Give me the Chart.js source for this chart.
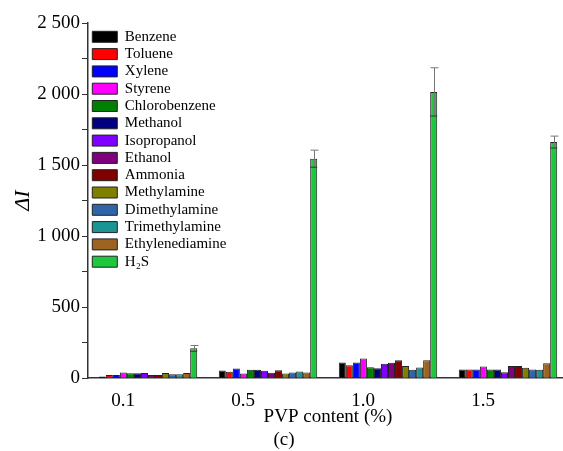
<!DOCTYPE html>
<html>
<head>
<meta charset="utf-8">
<script src="https://cdn.jsdelivr.net/npm/chart.js@4.4.0/dist/chart.umd.min.js"></script>
<style>
  html, body { margin: 0; padding: 0; background: #fff; overflow: hidden; }
  #wrap { width: 600px; height: 451px; }
</style>
</head>
<body>
<div id="wrap"><canvas id="chart" width="600" height="451"></canvas></div>
<script>
// Categories (PVP content, %)
const categories = ['0.1', '0.5', '1.0', '1.5'];

// ΔI per gas
const benzene         = [12, 54, 110, 61];
const toluene         = [23, 45, 92, 61];
const xylene          = [23, 68, 110, 61];
const styrene         = [40, 33, 138, 82];
const chlorobenzene   = [35, 59, 77, 61];
const methanol        = [35, 59, 70, 61];
const isopropanol     = [37, 52, 101, 42];
const ethanol         = [23, 38, 108, 85];
const ammonia         = [23, 56, 127, 85];
const methylamine     = [37, 33, 85, 73];
const dimethylamine   = [28, 40, 59, 61];
const trimethylamine  = [28, 47, 75, 59];
const ethylenediamine = [37, 40, 127, 106];
const h2s             = [210, 1545, 2015, 1662];
const h2sError        = [20, 60, 170, 42];

// Y tick values
const yTicks = [0, 500, 1000, 1500, 2000, 2500];

const serif = "'Liberation Serif', 'Times New Roman', serif";

// Series definitions
const series = [
  ['Benzene', benzene, '#000000'],
  ['Toluene', toluene, '#ff0000'],
  ['Xylene', xylene, '#0000ff'],
  ['Styrene', styrene, '#ff00ff'],
  ['Chlorobenzene', chlorobenzene, '#008000'],
  ['Methanol', methanol, '#000080'],
  ['Isopropanol', isopropanol, '#8000ff'],
  ['Ethanol', ethanol, '#800080'],
  ['Ammonia', ammonia, '#800000'],
  ['Methylamine', methylamine, '#808000'],
  ['Dimethylamine', dimethylamine, '#2f64a8'],
  ['Trimethylamine', trimethylamine, '#1a9494'],
  ['Ethylenediamine', ethylenediamine, '#9c6420'],
  ['H\u2082S', h2s, '#1ec83c']
];

const datasets = series.map(([label, data, color]) => ({
  label: label,
  data: data,
  backgroundColor: color,
  borderColor: '#222',
  borderWidth: 1
}));

// Error bars on the H2S series
const errorBarPlugin = {
  id: 'errorBars',
  afterDatasetsDraw(chart) {
    const ctx = chart.ctx;
    const y = chart.scales.y;
    const meta = chart.getDatasetMeta(chart.data.datasets.length - 1);
    ctx.save();
    ctx.lineWidth = 1;
    meta.data.forEach((bar, i) => {
      const v = h2s[i], e = h2sError[i];
      const yTop = y.getPixelForValue(v + e);
      const yBot = y.getPixelForValue(v - e);
      const x = Math.round(bar.x) + 0.5;
      ctx.strokeStyle = '#777';
      ctx.beginPath();
      ctx.moveTo(x, yTop);
      ctx.lineTo(x, yBot);
      ctx.moveTo(x - 4, yTop);
      ctx.lineTo(x + 4, yTop);
      ctx.stroke();
      ctx.strokeStyle = '#333';
      ctx.beginPath();
      ctx.moveTo(bar.x - bar.width / 2, yBot);
      ctx.lineTo(bar.x + bar.width / 2, yBot);
      ctx.stroke();
    });
    ctx.restore();
  }
};

// Keep the legend in the top-left corner of the plot
const legendInsidePlugin = {
  id: 'legendInside',
  beforeDraw(chart) {
    const lg = chart.legend;
    lg.top = chart.chartArea.top + 4;
    lg.left = chart.chartArea.left + 2;
  }
};

function spaced(v) {
  return String(v).replace(/\B(?=(\d{3})+$)/, ' ');
}

new Chart(document.getElementById('chart'), {
  type: 'bar',
  data: { labels: categories, datasets: datasets },
  plugins: [errorBarPlugin, legendInsidePlugin],
  options: {
    responsive: false,
    animation: false,
    layout: { padding: { top: 23, right: 32, bottom: 0, left: 0 } },
    datasets: { bar: { categoryPercentage: 0.82, barPercentage: 1.0 } },
    plugins: {
      legend: {
        position: 'chartArea',
        align: 'start',
        labels: {
          color: '#000',
          boxWidth: 25,
          boxHeight: 11,
          padding: 2.3,
          font: { family: serif, size: 15 }
        }
      },
      title: {
        display: true,
        position: 'bottom',
        text: '(c)',
        color: '#000',
        padding: 0,
        font: { family: serif, size: 19, weight: 'normal' }
      },
      tooltip: { enabled: false }
    },
    scales: {
      x: {
        grid: { display: false },
        border: { display: true, color: '#333', width: 1.5 },
        ticks: { color: '#000', padding: 3, labelOffset: -25, font: { family: serif, size: 19 } },
        title: {
          display: true,
          text: 'PVP content (%)',
          color: '#000',
          padding: 0,
          font: { family: serif, size: 19 }
        },
        afterFit(scale) { scale.height = 50; }
      },
      y: {
        min: 0,
        max: 2500,
        border: { display: true, color: '#333', width: 1.5 },
        grid: { drawOnChartArea: false, drawTicks: true, tickLength: 6, color: '#333' },
        ticks: {
          stepSize: 250,
          autoSkip: false,
          padding: 2,
          color: '#000',
          font: { family: serif, size: 19 },
          callback: (v) => (yTicks.includes(v) ? spaced(v) : '')
        },
        title: {
          display: true,
          text: '\u0394I',
          color: '#000',
          padding: { top: 10, bottom: 0 },
          font: { family: serif, size: 22, style: 'italic' }
        },
        afterFit(scale) { scale.width = 88; }
      }
    }
  }
});
</script>
</body>
</html>
